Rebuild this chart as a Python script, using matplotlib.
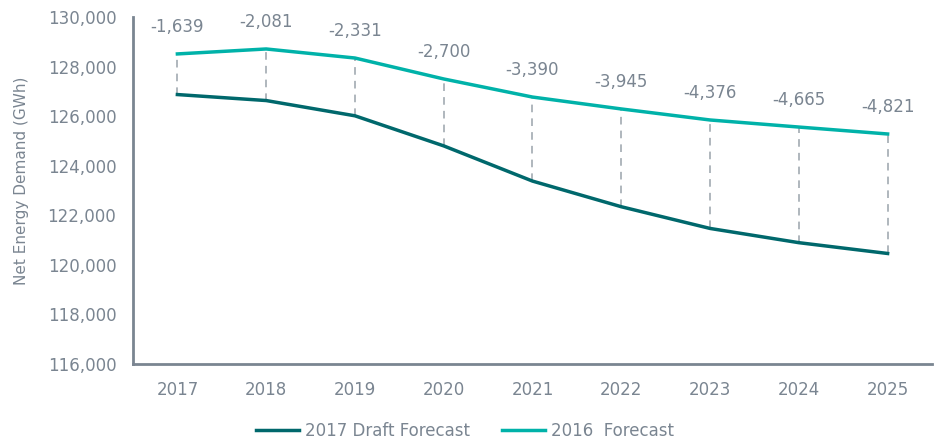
import matplotlib
matplotlib.use("Agg")
import matplotlib.pyplot as plt
from matplotlib.ticker import FuncFormatter

years = ["2017", "2018", "2019", "2020", "2021", "2022", "2023", "2024", "2025"]
forecast_2016 = [128510, 128710, 128345, 127500, 126770, 126290, 125845, 125560, 125280]
draft_2017 = [126871, 126629, 126014, 124800, 123380, 122345, 121469, 120895, 120459]
diff_labels = ["-1,639", "-2,081", "-2,331", "-2,700", "-3,390", "-3,945", "-4,376", "-4,665", "-4,821"]
yticks = [116000, 118000, 120000, 122000, 124000, 126000, 128000, 130000]

plt.rcParams['font.family'] = ['DejaVu Sans']
gray = "#7a8591"
dark = "#00686c"
light = "#00b2a9"

fig = plt.figure(figsize=(9.35, 4.43), dpi=100)
ax = fig.add_axes([133/935, 1-364/443, (932-133)/935, (364-17)/443])
x = list(range(len(years)))

for i in x:
    ax.plot([i, i], [draft_2017[i], forecast_2016[i]], color="#9aa3ab", lw=1.1,
            ls=(0, (5, 4)), zorder=1)
ax.plot(x, draft_2017, color=dark, lw=2.5, label="2017 Draft Forecast", zorder=2)
ax.plot(x, forecast_2016, color=light, lw=2.5, label="2016  Forecast", zorder=2)

for i in x:
    ax.annotate(diff_labels[i], (i, forecast_2016[i]), xytext=(0, 27),
                textcoords="offset pixels",
                ha="center", va="center", fontsize=12, color=gray)

ax.set_xlim(-0.5, 8.5)
ax.set_ylim(116000, 130000)
ax.set_yticks(yticks)
ax.yaxis.set_major_formatter(FuncFormatter(lambda v, p: f"{int(v):,}"))
ax.set_xticks(x)
ax.set_xticklabels(years)
ax.tick_params(axis="both", length=0, labelsize=12, labelcolor=gray)
ax.tick_params(axis="y", pad=12)
ax.tick_params(axis="x", pad=12)
for s in ["top", "right"]:
    ax.spines[s].set_visible(False)
for s in ["left", "bottom"]:
    ax.spines[s].set_color(gray)
    ax.spines[s].set_linewidth(2)

fig.text(22/935, 1-181/443, "Net Energy Demand (GWh)", rotation=90, ha="center",
         va="center", fontsize=11, color=gray)

leg = fig.legend(loc="center", bbox_to_anchor=(465/935, 1-431/443), ncol=2, frameon=False,
                 fontsize=12, handlelength=2.6, handletextpad=0.35, columnspacing=1.9)
for t in leg.get_texts():
    t.set_color(gray)

fig.savefig("out.png", dpi=100)
